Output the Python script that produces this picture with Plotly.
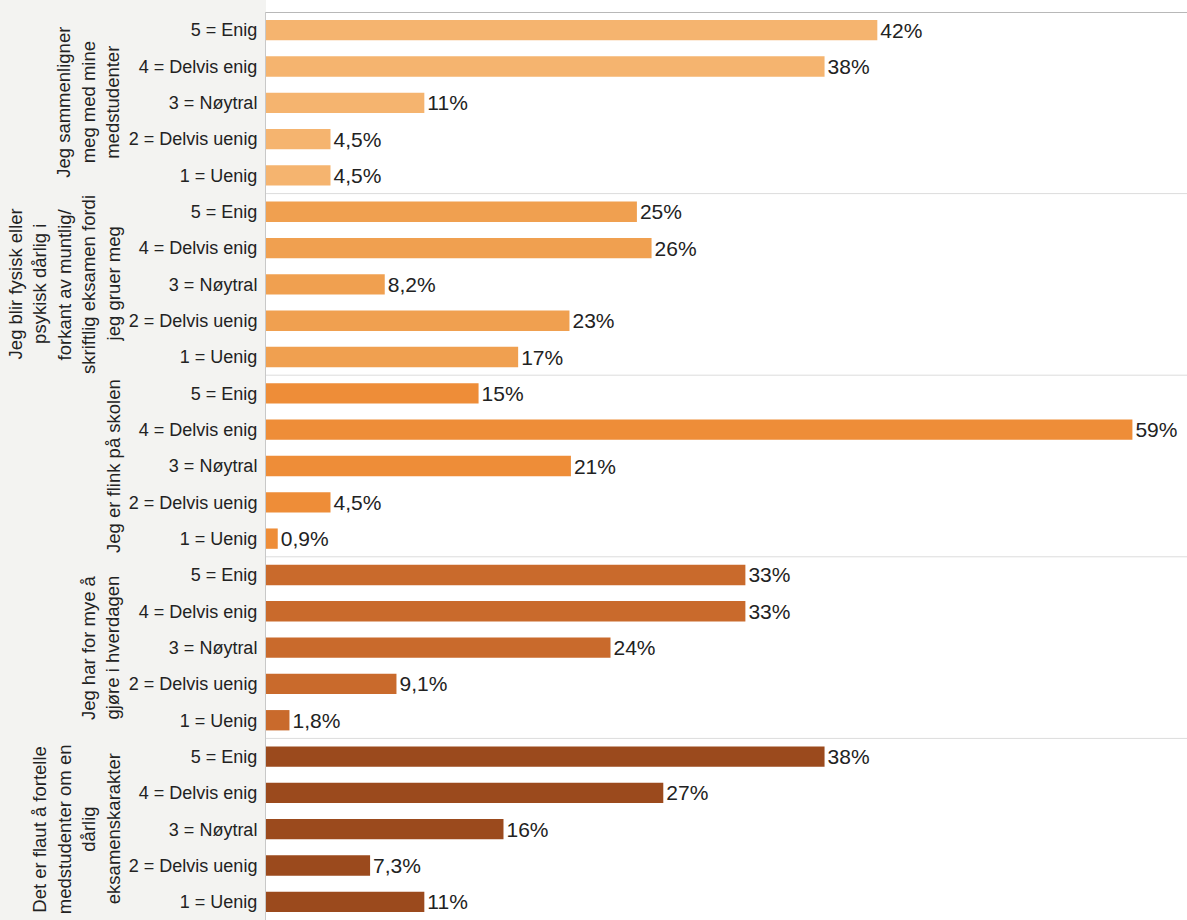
import plotly.graph_objects as go

# ---- data ----
groups = [
    ["Jeg sammenligner", "meg med mine", "medstudenter"],
    ["Jeg blir fysisk eller", "psykisk dårlig i", "forkant av muntlig/", "skriftlig eksamen fordi", "jeg gruer meg"],
    ["Jeg er flink på skolen"],
    ["Jeg har for mye å", "gjøre i hverdagen"],
    ["Det er flaut å fortelle", "medstudenter om en", "dårlig", "eksamenskarakter"],
]
categories = ["5 = Enig", "4 = Delvis enig", "3 = Nøytral", "2 = Delvis uenig", "1 = Uenig"]

values_g1 = [41.7, 38.1, 10.8, 4.4, 4.4]
values_g2 = [25.3, 26.3, 8.1, 20.7, 17.2]
values_g3 = [14.5, 59.1, 20.8, 4.4, 0.8]
values_g4 = [32.7, 32.7, 23.5, 8.9, 1.6]
values_g5 = [38.1, 27.1, 16.2, 7.1, 10.8]

labels_g1 = ["42%", "38%", "11%", "4,5%", "4,5%"]
labels_g2 = ["25%", "26%", "8,2%", "23%", "17%"]
labels_g3 = ["15%", "59%", "21%", "4,5%", "0,9%"]
labels_g4 = ["33%", "33%", "24%", "9,1%", "1,8%"]
labels_g5 = ["38%", "27%", "16%", "7,3%", "11%"]

all_values = [values_g1, values_g2, values_g3, values_g4, values_g5]
all_labels = [labels_g1, labels_g2, labels_g3, labels_g4, labels_g5]
colors = ["#F5B46F", "#F0A050", "#EE8D38", "#C96A2C", "#9B4A1D"]

FONT = "Liberation Sans, Arial, sans-serif"

fig = go.Figure()
tickvals, ticktext = [], []
for gi, (vals, labs) in enumerate(zip(all_values, all_labels)):
    ys = [gi * 5 + k for k in range(5)]
    tickvals += ys
    ticktext += categories
    fig.add_trace(go.Bar(
        x=vals, y=ys, orientation="h",
        marker=dict(color=colors[gi], line=dict(width=0)),
        width=0.56,
        text=labs, textposition="outside", constraintext="none",
        cliponaxis=False,
        textfont=dict(family=FONT, size=21, color="#222222"),
        showlegend=False, hoverinfo="x+y",
    ))

L, T, W, H = 266, 12, 1187 - 266, 920 - 12
shapes = []
# white strip above the plot area
shapes.append(dict(type="rect", xref="paper", yref="paper", x0=0, x1=1,
                   y0=1, y1=1 + T / H, fillcolor="#ffffff", line=dict(width=0),
                   layer="below"))
for gi in range(1, 5):
    shapes.append(dict(type="line", xref="paper", yref="y", x0=0, x1=1,
                       y0=gi * 5 - 0.5, y1=gi * 5 - 0.5,
                       line=dict(color="#dcdcdc", width=1)))
shapes.append(dict(type="line", xref="paper", yref="y", x0=0, x1=1,
                   y0=-0.5, y1=-0.5, line=dict(color="#b8b8b8", width=2)))

annotations = []
for gi, lines in enumerate(groups):
    n = len(lines)
    for li, line in enumerate(lines):
        px = 113 - 24.5 * (n - 1 - li)
        annotations.append(dict(
            text=line, textangle=-90, xref="paper", yref="y",
            x=(px - L) / W, y=gi * 5 + 2, xanchor="center", yanchor="middle",
            showarrow=False, font=dict(family=FONT, size=18.5, color="#222222"),
        ))

fig.update_layout(
    width=1187, height=920,
    margin=dict(l=L, r=0, t=T, b=0, autoexpand=False),
    paper_bgcolor="#f3f3f1", plot_bgcolor="#ffffff",
    shapes=shapes, annotations=annotations,
    xaxis=dict(range=[0, W / 14.66], showticklabels=False, showgrid=False,
               zeroline=False, showline=False, fixedrange=True),
    yaxis=dict(range=[24.5, -0.5], tickvals=tickvals, ticktext=ticktext,
               showgrid=False, zeroline=False, showline=True,
               linecolor="#c8c8c8", linewidth=1, ticks="",
               ticklabelstandoff=4,
               tickfont=dict(family=FONT, size=18, color="#222222")),
)

fig.write_html("out.html",
               config={"displayModeBar": False},
               post_script="document.body.style.margin='0';document.body.style.overflow='hidden';")
